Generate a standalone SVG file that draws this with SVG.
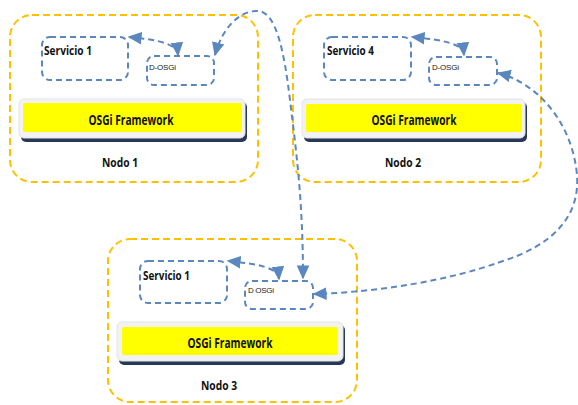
<svg xmlns="http://www.w3.org/2000/svg" width="578" height="405" viewBox="0 0 578 405">
  <style>
    .node { fill: none; stroke: #FFC000; stroke-width: 2; stroke-dasharray: 7 4; }
    .svc { fill: none; stroke: #5B87C0; stroke-width: 2; stroke-dasharray: 6 4; }
    .link { fill: none; stroke: #5B87C0; stroke-width: 2; stroke-dasharray: 6 4; marker-start: url(#head); marker-end: url(#head); }
    .shadow { fill: #27395A; }
    .plate { fill: #F2F2F2; stroke: #E4E4E4; stroke-width: 1; }
    .fw { fill: #FFFF00; }
    .lbl { font-family: "Open Sans", "Liberation Sans", sans-serif; font-weight: bold; fill: #111; }
    .small { font-family: "Liberation Sans", sans-serif; font-size: 8px; fill: #222; }
  </style>
  <defs>
    <marker id="head" viewBox="0 0 10 10" refX="9" refY="5" markerWidth="7" markerHeight="7" orient="auto-start-reverse" markerUnits="strokeWidth">
      <path d="M0,0.5 L10,5 L0,9.5 z" fill="#5B87C0"/>
    </marker>
  </defs>
  <rect width="578" height="405" fill="#FFFFFF"/>

  <!-- Node 1 -->
  <g id="nodo1">
    <rect class="node" x="10" y="15" width="248" height="167" rx="22"/>
    <rect class="svc" x="42" y="37" width="86" height="43" rx="8"/>
    <text class="lbl" x="44" y="55" font-size="12" textLength="48" lengthAdjust="spacingAndGlyphs">Servicio 1</text>
    <rect class="svc" x="147" y="56" width="67" height="29" rx="7"/>
    <text class="small" x="149" y="70" textLength="27">D-OSGi</text>
    <rect class="shadow" x="21" y="102" width="226" height="40" rx="5"/>
    <rect class="plate" x="19" y="99" width="226" height="39" rx="5"/>
    <rect class="fw" x="23" y="103" width="219" height="29" rx="2"/>
    <text class="lbl" x="131" y="125" font-size="14" text-anchor="middle" textLength="85" lengthAdjust="spacingAndGlyphs">OSGi Framework</text>
    <text class="lbl" x="102" y="167" font-size="13" textLength="36" lengthAdjust="spacingAndGlyphs">Nodo 1</text>
  </g>

  <!-- Node 2 -->
  <g id="nodo2">
    <rect class="node" x="293" y="15" width="248" height="167" rx="22"/>
    <rect class="svc" x="324" y="37" width="87" height="43" rx="8"/>
    <text class="lbl" x="327" y="55" font-size="12" textLength="47" lengthAdjust="spacingAndGlyphs">Servicio 4</text>
    <rect class="svc" x="429" y="57" width="68" height="28" rx="7"/>
    <text class="small" x="432" y="70" textLength="27">D-OSGi</text>
    <rect class="shadow" x="304" y="102" width="223" height="40" rx="5"/>
    <rect class="plate" x="302" y="99" width="223" height="39" rx="5"/>
    <rect class="fw" x="306" y="104" width="216" height="28" rx="2"/>
    <text class="lbl" x="414" y="125" font-size="14" text-anchor="middle" textLength="85" lengthAdjust="spacingAndGlyphs">OSGi Framework</text>
    <text class="lbl" x="385" y="167" font-size="13" textLength="36" lengthAdjust="spacingAndGlyphs">Nodo 2</text>
  </g>

  <!-- Node 3 -->
  <g id="nodo3">
    <rect class="node" x="108" y="239" width="249" height="163" rx="22"/>
    <rect class="svc" x="140" y="261" width="87" height="42" rx="8"/>
    <text class="lbl" x="143" y="280" font-size="12" textLength="47" lengthAdjust="spacingAndGlyphs">Servicio 1</text>
    <rect class="svc" x="245" y="281" width="68" height="28" rx="7"/>
    <text class="small" x="248" y="293" textLength="26">D OSGi</text>
    <rect class="shadow" x="119" y="325" width="226" height="40" rx="5"/>
    <rect class="plate" x="117" y="322" width="226" height="39" rx="5"/>
    <rect class="fw" x="122" y="327" width="216" height="28" rx="2"/>
    <text class="lbl" x="230" y="348" font-size="14" text-anchor="middle" textLength="85" lengthAdjust="spacingAndGlyphs">OSGi Framework</text>
    <text class="lbl" x="201" y="390" font-size="13" textLength="36" lengthAdjust="spacingAndGlyphs">Nodo 3</text>
  </g>

  <!-- Connectors -->
  <g id="connectors">
    <path class="link" d="M178 55 C177 44 160 40 129 37"/>
    <path class="link" d="M464 55 C463 44 445 40 412 37"/>
    <path class="link" d="M279 279 C278 268 260 264 228 261"/>
    <path class="link" d="M215 55 C222 28 240 10 258 11 C276 12 284 50 290 100 C296 150 303 200 303 278"/>
    <path class="link" d="M498 73 C535 82 572 120 577 175 C580 215 555 245 500 262 C450 280 380 292 314 294"/>
  </g>
</svg>
